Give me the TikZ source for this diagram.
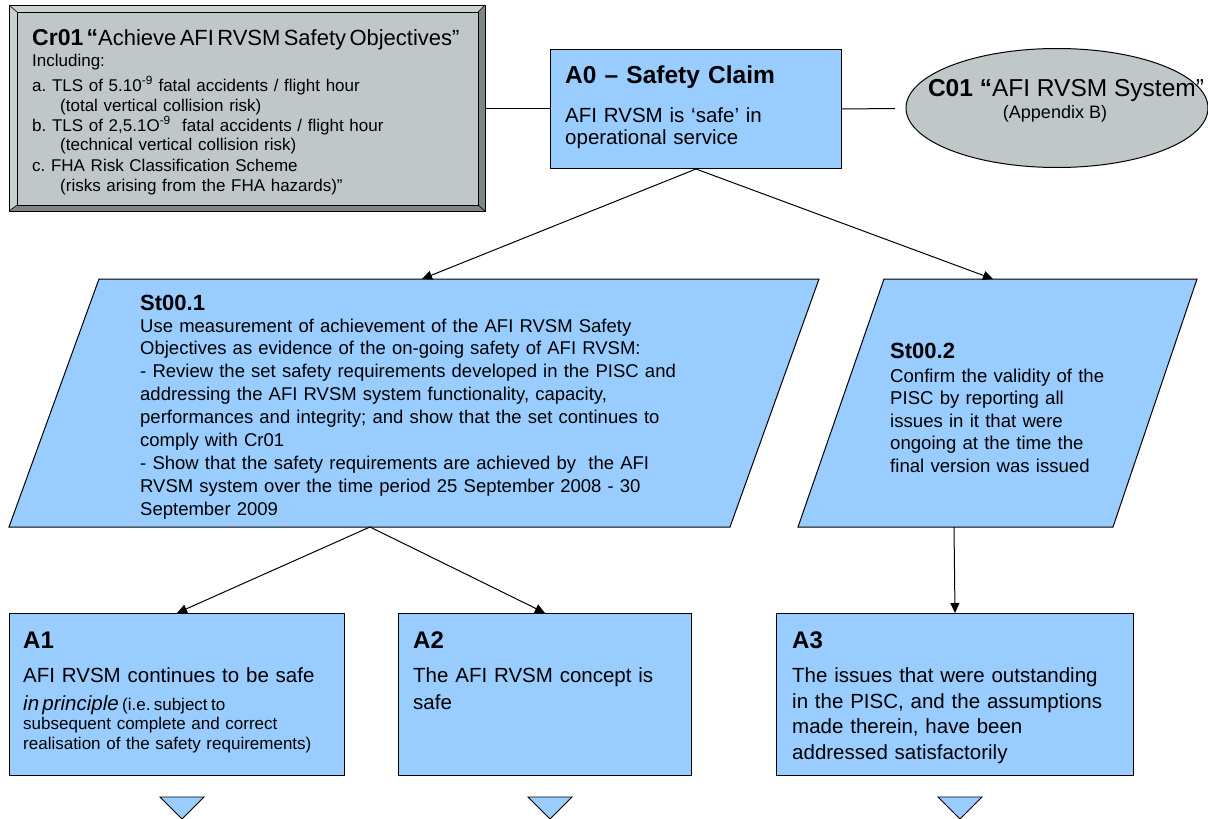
\documentclass[tikz,border=0pt]{standalone}
\usepackage{fontspec}
\setmainfont{Liberation Sans}
\usetikzlibrary{shapes.geometric,arrows.meta,calc}
\definecolor{boxblue}{RGB}{153,204,255}
\definecolor{crgray}{RGB}{192,199,200}
\definecolor{crdark}{RGB}{125,133,133}
\definecolor{crlight}{RGB}{202,208,208}
\begin{document}
\frenchspacing
\begin{tikzpicture}[x=1pt,y=-1pt,
  box/.style={draw=black, line width=1pt, fill=boxblue, anchor=north west, inner sep=0pt},
  conn/.style={draw=black, line width=1pt},
  arr/.style={conn, -{Triangle[length=10pt,width=9pt]}},
  txt/.style={anchor=base west, inner sep=0pt, text width=700pt, align=left},
  ctxt/.style={anchor=base, inner sep=0pt},
  para/.style={draw=black, line width=1pt, fill=boxblue},
  tri/.style={draw=black, line width=0.8pt, fill=boxblue},
  ttl/.style={txt, font=\fontsize{24}{27}\selectfont\bfseries},
  sttl/.style={txt, font=\fontsize{22}{25}\selectfont\bfseries}]
\useasboundingbox (0,0) rectangle (1208,819);

% ---------- Cr01 (bevelled box)
\node[draw=black, line width=0.8pt, fill=crdark, anchor=north west, minimum width=476pt, minimum height=206pt, inner sep=0pt] (Cr01) at (9,5) {};
\fill[crlight] (9,5) -- (485,5) -- (478,12) -- (17,12) -- (17,205) -- (9,211) -- cycle;
\draw[line width=0.8pt, fill=crgray] (17,12) rectangle (478,205);
\draw[line width=0.6pt] (9,5) -- (17,12) (485,5) -- (478,12) (9,211) -- (17,205) (485,211) -- (478,205);
\draw[line width=0.8pt] (9,5) rectangle (485,211);
\node[txt] (cr01t) at (32,45) {{\fontsize{23}{26}\selectfont\bfseries Cr01 “}{\fontsize{22}{24}\selectfont Achieve AFI RVSM Safety Objectives”}};
\node[txt, font=\fontsize{17}{20}\selectfont] (cr01b) at (32,66) {Including:\\[5pt]
a. TLS of 5.10\textsuperscript{-9} fatal accidents / flight hour\\
\hspace*{28pt}(total vertical collision risk)\\
b. TLS of 2,5.1O\textsuperscript{-9}\ \ fatal accidents / flight hour\\
\hspace*{28pt}(technical vertical collision risk)\\
c. FHA Risk Classification Scheme\\
\hspace*{28pt}(risks arising from the FHA hazards)”};

% ---------- A0
\node[box, minimum width=291pt, minimum height=119pt] (A0) at (550,49) {};
\node[txt, font=\fontsize{24.5}{27}\selectfont\bfseries] (A0t) at (565,83) {A0 – Safety Claim};
\node[txt, font=\fontsize{20.5}{22}\selectfont] (A0b) at (565,122.5) {AFI RVSM is ‘safe’ in\\operational service};

% ---------- C01
\node[draw=black, line width=1pt, fill=crgray, ellipse, minimum width=302pt, minimum height=119pt, inner sep=0pt] (C01) at (1057,108) {};
\node[ctxt] (C01t) at (1066,96) {{\fontsize{24.5}{27}\selectfont\bfseries C01 “}{\fontsize{24.5}{27}\selectfont AFI RVSM System”}};
\node[ctxt, font=\fontsize{18}{20}\selectfont] (C01b) at (1055,118.5) {(Appendix B)};
\coordinate (c01in) at (895,108.5);

\draw[conn] (Cr01.east) -- (A0.west |- Cr01.east);
\draw[conn] (A0.east) -- (c01in);

% ---------- St00.1
\draw[para] (99,279) -- (819,279) -- (730,527) -- (9,527) -- cycle;
\coordinate (s1top) at (422,279);
\coordinate (s1bot) at (370,527);
\node[sttl] (s1t) at (140,310) {St00.1};
\node[txt, font=\fontsize{18.5}{22.9}\selectfont] (s1b) at (140,332) {Use measurement of achievement of the AFI RVSM Safety\\
Objectives as evidence of the on-going safety of AFI RVSM:\\
- Review the set safety requirements developed in the PISC and\\
addressing the AFI RVSM system functionality, capacity,\\
performances and integrity; and show that the set continues to\\
comply with Cr01\\
- Show that the safety requirements are achieved by\ \ the AFI\\
RVSM system over the time period 25 September 2008 - 30\\
September 2009};

% ---------- St00.2
\draw[para] (884,279) -- (1197,279) -- (1113,527) -- (798,527) -- cycle;
\coordinate (s2top) at (993,279);
\coordinate (s2bot) at (954,527);
\node[sttl] (s2t) at (890,358) {St00.2};
\node[txt, font=\fontsize{18.6}{22.6}\selectfont] (s2b) at (890,382) {Confirm the validity of the\\
PISC by reporting all\\
issues in it that were\\
ongoing at the time the\\
final version was issued};

\draw[arr] (A0.south) -- (s1top);
\draw[arr] (A0.south) -- (s2top);

% ---------- A1 A2 A3
\node[box, minimum width=335pt, minimum height=162pt] (A1) at (9,613) {};
\node[box, minimum width=293pt, minimum height=162pt] (A2) at (398,613) {};
\node[box, minimum width=357pt, minimum height=162pt] (A3) at (776,613) {};

\draw[arr] (s1bot) -- (A1.north);
\draw[arr] (s1bot) -- (A2.north);
\draw[arr] (s2bot) -- (A3.north);

\node[ttl] (A1t) at (23,648) {A1};
\node[txt, font=\fontsize{20.5}{22}\selectfont] (A1b1) at (23,682.5) {AFI RVSM continues to be safe};
\node[txt] (A1b2) at (23,710.5) {{\fontsize{20.5}{22}\selectfont\itshape in principle} {\fontsize{17}{20}\selectfont (i.e. subject to}};
\node[txt, font=\fontsize{17}{20.5}\selectfont] (A1b3) at (23,729) {subsequent complete and correct\\realisation of the safety requirements)};

\node[ttl] (A2t) at (413,648) {A2};
\node[txt, font=\fontsize{20.5}{26.5}\selectfont] (A2b) at (413,682.5) {The AFI RVSM concept is\\safe};

\node[ttl] (A3t) at (792,648) {A3};
\node[txt, font=\fontsize{20.5}{25.5}\selectfont] (A3b) at (792,682.5) {The issues that were outstanding\\
in the PISC, and the assumptions\\
made therein, have been\\
addressed satisfactorily};

% ---------- undeveloped markers
\draw[tri] (160,797) -- (204,797) -- (182,819) -- cycle;
\draw[tri] (528,797) -- (572,797) -- (550,819) -- cycle;
\draw[tri] (938,797) -- (982,797) -- (960,819) -- cycle;
\end{tikzpicture}
\end{document}
